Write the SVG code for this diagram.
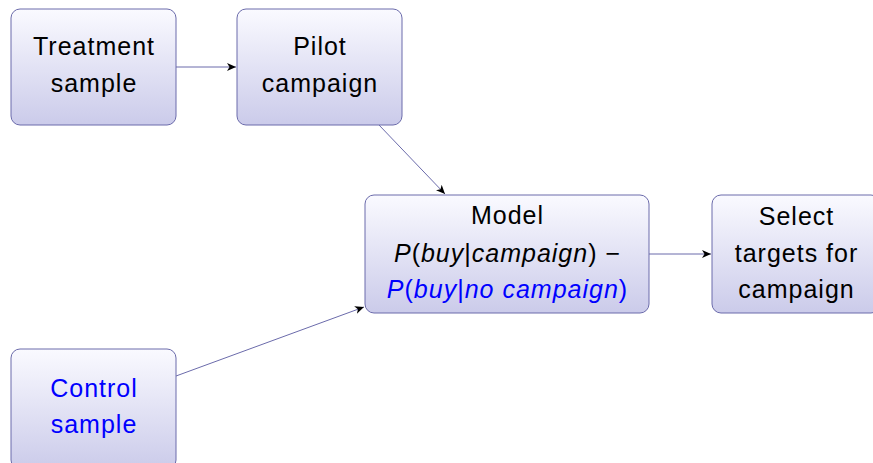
<svg xmlns="http://www.w3.org/2000/svg" width="873" height="463" viewBox="0 0 873 463">
<defs>
<linearGradient id="g" x1="0" y1="0" x2="0" y2="1">
<stop offset="0" stop-color="#fafaff"/>
<stop offset="1" stop-color="#cbcbea"/>
</linearGradient>
<marker id="ah" markerWidth="10" markerHeight="8" refX="9" refY="4" orient="auto" markerUnits="userSpaceOnUse">
<path d="M0,0 L9,4 L0,8 L2.5,4 Z" fill="#000"/>
</marker>
<style>
.box{fill:url(#g);stroke:#6b6bab;stroke-width:1}
.t{font-family:"Liberation Sans","DejaVu Sans",sans-serif;font-size:25px;fill:#000;text-anchor:middle;letter-spacing:1px}
.b{fill:#0000ff}
.i{font-style:italic}
.edge{stroke:#6b6bab;stroke-width:1;fill:none;marker-end:url(#ah)}
</style>
</defs>
<g id="connectors">
<line class="edge" x1="176" y1="67" x2="236" y2="67"/>
<line class="edge" x1="379" y1="125" x2="445" y2="194"/>
<line class="edge" x1="649" y1="254" x2="711" y2="254"/>
<line class="edge" x1="176" y1="376" x2="364" y2="307"/>
</g>
<g id="treatment">
<rect class="box" x="11" y="9" width="165" height="116" rx="9"/>
<text class="t" x="94" y="55">Treatment</text>
<text class="t" x="94" y="92">sample</text>
</g>
<g id="pilot">
<rect class="box" x="237" y="9" width="165" height="116" rx="9"/>
<text class="t" x="320" y="55">Pilot</text>
<text class="t" x="320" y="92">campaign</text>
</g>
<g id="model">
<rect class="box" x="365" y="195" width="284" height="118" rx="9"/>
<text class="t" x="507.5" y="224">Model</text>
<text class="t" x="507.5" y="262"><tspan class="i">P</tspan>(<tspan class="i">buy</tspan>|<tspan class="i">campaign</tspan>) −</text>
<text class="t b" x="507.5" y="298"><tspan class="i">P</tspan>(<tspan class="i">buy</tspan>|<tspan class="i">no campaign</tspan>)</text>
</g>
<g id="select">
<rect class="box" x="712" y="195" width="168" height="118" rx="9"/>
<text class="t" x="796.5" y="225">Select</text>
<text class="t" x="796.5" y="262">targets for</text>
<text class="t" x="796.5" y="298">campaign</text>
</g>
<g id="control">
<rect class="box" x="11" y="349" width="165" height="120" rx="9"/>
<text class="t b" x="94" y="397">Control</text>
<text class="t b" x="94" y="433">sample</text>
</g>
</svg>
